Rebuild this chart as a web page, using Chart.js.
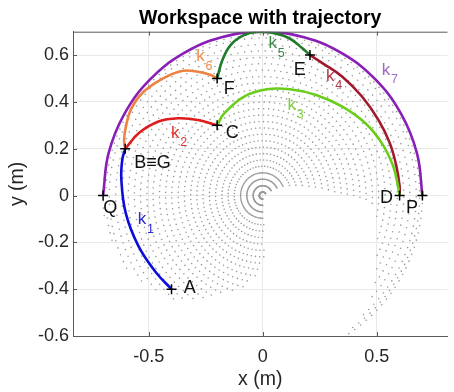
<!DOCTYPE html>
<html>
<head>
<meta charset="utf-8">
<script src="https://cdn.jsdelivr.net/npm/chart.js@4/dist/chart.umd.min.js"></script>
<style>
  html, body { margin: 0; padding: 0; background: #fff; }
  #wrap { width: 454px; height: 392px; }
</style>
</head>
<body>
<div id="wrap"><canvas id="chart" width="454" height="392"></canvas></div>
<script>
// ── Axis ticks ─────────────────────────────────────────────────────────────
const xTickValues = [-0.5, 0, 0.5];
const xTickLabels = ['-0.5', '0', '0.5'];
const yTickValues = [-0.6, -0.4, -0.2, 0, 0.2, 0.4, 0.6];
const yTickLabels = ['-0.6', '-0.4', '-0.2', '0', '0.2', '0.4', '0.6'];

// ── Workspace dots: rings around the base (radius, start/end angle, dot step in deg) ─
const ringRadius = [0.015, 0.042, 0.070, 0.097, 0.125, 0.152, 0.179, 0.207, 0.234, 0.262, 0.289, 0.316, 0.344,
                    0.371, 0.399, 0.426, 0.453, 0.481, 0.508, 0.536, 0.563, 0.590, 0.618, 0.645, 0.673, 0.688, 0.700];
const ringStart  = [32, 30, 27, 24, 20, 17, 14, 11, 9, 7, 5, 3, 2,
                    1, 0, -1, -2, -4, -10, -20, -27, -32, -37, -42, -49, -55, -60];
const ringEnd    = [272, 272, 272, 272, 272, 272, 272, 272, 272, 271, 270, 268, 266,
                    262, 258, 253, 248, 244, 241, 237, 233, 229, 223, 217, 208, 197, 187];
const ringStep   = [3, 3, 3, 3, 6, 5.5, 5, 4.6, 4.3, 4, 3.8, 3.6, 3.5,
                    3.4, 3.3, 3.2, 3.1, 3, 3, 2.9, 2.9, 2.8, 2.8, 2.7, 2.7, 2.7, 2.6];

// ── Trajectory segments ────────────────────────────────────────────────────
const k1X = [-0.400, -0.467, -0.545, -0.601, -0.620, -0.616, -0.603];
const k1Y = [-0.400, -0.330, -0.216, -0.074, 0.068, 0.153, 0.200];
const k2X = [-0.603, -0.543, -0.457, -0.371, -0.284, -0.200];
const k2Y = [0.200, 0.267, 0.316, 0.330, 0.323, 0.300];
const k3X = [-0.200, -0.170, -0.082, 0.019, 0.119, 0.234, 0.349, 0.450, 0.522, 0.572, 0.593, 0.600];
const k3Y = [0.300, 0.350, 0.423, 0.454, 0.454, 0.430, 0.380, 0.309, 0.224, 0.125, 0.040, 0.000];
const k4X = [0.207, 0.263, 0.349, 0.435, 0.507, 0.557, 0.586, 0.600, 0.600];
const k4Y = [0.600, 0.565, 0.508, 0.423, 0.323, 0.224, 0.125, 0.040, 0.000];
const k5X = [-0.200, -0.177, -0.141, -0.083, -0.026, 0.046, 0.118, 0.175, 0.207];
const k5Y = [0.500, 0.579, 0.643, 0.685, 0.699, 0.695, 0.671, 0.628, 0.600];
const k6X = [-0.603, -0.608, -0.600, -0.579, -0.529, -0.443, -0.356, -0.284, -0.227, -0.200];
const k6Y = [0.200, 0.238, 0.295, 0.366, 0.437, 0.497, 0.532, 0.529, 0.515, 0.500];
const k7X = [0.700, 0.676, 0.606, 0.495, 0.350, 0.181, 0.000, -0.181, -0.350, -0.495, -0.606, -0.676, -0.700];
const k7Y = [0.000, 0.181, 0.350, 0.495, 0.606, 0.676, 0.700, 0.676, 0.606, 0.495, 0.350, 0.181, 0.000];

// ── Key points (crosses) and their labels ──────────────────────────────────
const markerX = [-0.400, -0.603, -0.200, 0.600, 0.207, -0.200, 0.700, -0.700];
const markerY = [-0.400, 0.200, 0.300, 0.000, 0.600, 0.500, 0.000, 0.000];
const pointText  = ['A', 'B≡G', 'C', 'D', 'E', 'F', 'P', 'Q'];
const pointTextX = [-0.320, -0.483, -0.134, 0.542, 0.162, -0.147, 0.654, -0.669];
const pointTextY = [-0.394, 0.139, 0.267, -0.011, 0.536, 0.455, -0.055, -0.055];

// segment labels k_1 .. k_7
const kSub    = ['1', '2', '3', '4', '5', '6', '7'];
const kLabelX = [-0.530, -0.384, 0.127, 0.296, 0.044, -0.273, 0.540];
const kLabelY = [-0.102, 0.266, 0.387, 0.510, 0.650, 0.593, 0.536];

// ── Styles ─────────────────────────────────────────────────────────────────
const FONT = '"Liberation Sans", Arial, Helvetica, sans-serif';
const AXIS = '#262626';
const K_LINE  = ['#0c0cdc', '#e01b1b', '#6acd1c', '#a01a2b', '#1f7a2a', '#ee8240', '#8a1fb6'];
const K_LABEL = ['#2a2ad6', '#e0332d', '#7ccf3e', '#b23a4c', '#3a8a45', '#f0904f', '#9c6cc6'];

const toPts = (xs, ys) => xs.map((v, i) => ({ x: v, y: ys[i] }));

const dots = [];
ringRadius.forEach((r, i) => {
  for (let a = ringStart[i]; a <= ringEnd[i] + 1e-9; a += ringStep[i]) {
    const t = a * Math.PI / 180;
    dots.push({ x: r * Math.cos(t), y: r * Math.sin(t) });
  }
});

const segs = [[k1X, k1Y], [k2X, k2Y], [k3X, k3Y], [k4X, k4Y], [k5X, k5Y], [k6X, k6Y], [k7X, k7Y]];
const segDatasets = segs.map((s, i) => ({
  label: 'k' + kSub[i],
  data: toPts(s[0], s[1]),
  showLine: true,
  borderColor: K_LINE[i],
  borderWidth: 2.6,
  pointRadius: 0,
  tension: 0.4,
  fill: false,
  order: 1,
}));

// ── Annotations, box and inward ticks ─────────────────────────────────────
const annotate = {
  id: 'annotate',
  afterDatasetsDraw(chart) {
    const { ctx, chartArea: ca, scales: { x, y } } = chart;
    ctx.save();

    // box top edge + inward ticks (MATLAB look)
    ctx.strokeStyle = '#5a5a5a';
    ctx.lineWidth = 1;
    ctx.beginPath();
    ctx.moveTo(ca.left, ca.top + 0.5);
    ctx.lineTo(ca.right, ca.top + 0.5);
    xTickValues.forEach(v => {
      const px = Math.round(x.getPixelForValue(v)) + 0.5;
      ctx.moveTo(px, ca.bottom); ctx.lineTo(px, ca.bottom - 4);
      ctx.moveTo(px, ca.top); ctx.lineTo(px, ca.top + 4);
    });
    yTickValues.forEach(v => {
      const py = Math.round(y.getPixelForValue(v)) + 0.5;
      ctx.moveTo(ca.left, py); ctx.lineTo(ca.left + 4, py);
    });
    ctx.stroke();

    ctx.textAlign = 'center';
    ctx.textBaseline = 'middle';
    ctx.fillStyle = '#111';
    ctx.font = '18px ' + FONT;
    pointText.forEach((t, i) => {
      ctx.fillText(t, x.getPixelForValue(pointTextX[i]), y.getPixelForValue(pointTextY[i]));
    });

    kSub.forEach((s, i) => {
      const px = x.getPixelForValue(kLabelX[i]);
      const py = y.getPixelForValue(kLabelY[i]);
      ctx.fillStyle = K_LABEL[i];
      ctx.font = '17px ' + FONT;
      ctx.fillText('k', px, py);
      ctx.font = '12.5px ' + FONT;
      ctx.fillText(s, px + 8.5, py + 9.7);
    });
    ctx.restore();
  },
};

new Chart(document.getElementById('chart'), {
  type: 'scatter',
  data: {
    datasets: [
      {
        label: 'points',
        data: toPts(markerX, markerY),
        pointStyle: 'cross',
        pointRadius: 5,
        borderColor: '#000',
        borderWidth: 1.5,
        order: 0,
      },
      ...segDatasets,
      {
        label: 'workspace',
        data: dots,
        pointRadius: 0.8,
        borderWidth: 0,
        backgroundColor: '#999999',
        order: 2,
      },
    ],
  },
  options: {
    responsive: false,
    animation: false,
    devicePixelRatio: 1,
    layout: { padding: 0 },
    plugins: {
      legend: { display: false },
      tooltip: { enabled: false },
      title: {
        display: true,
        text: 'Workspace with trajectory',
        color: '#000',
        fullSize: false,
        font: { family: FONT, size: 19.5, weight: 'bold' },
        padding: { top: 6.8, bottom: 1.5 },
      },
    },
    scales: {
      x: {
        type: 'linear',
        min: -0.832,
        max: 0.81,
        afterBuildTicks: s => { s.ticks = xTickValues.map(v => ({ value: v })); },
        afterFit: s => { s.height = 56; },
        ticks: {
          color: AXIS,
          autoSkip: false,
          maxRotation: 0,
          padding: 10,
          font: { family: FONT, size: 18 },
          callback: (v, i) => xTickLabels[i],
        },
        grid: { color: '#e9e9e9', drawTicks: false },
        border: { color: '#5a5a5a', width: 1 },
        title: {
          display: true,
          text: 'x (m)',
          color: AXIS,
          font: { family: FONT, size: 19.5 },
          padding: { top: 0, bottom: 0.5 },
        },
      },
      y: {
        type: 'linear',
        min: -0.6,
        max: 0.7,
        afterBuildTicks: s => { s.ticks = yTickValues.map(v => ({ value: v })); },
        afterFit: s => { s.width = 73; },
        ticks: {
          color: AXIS,
          autoSkip: false,
          padding: 4,
          font: { family: FONT, size: 18 },
          callback: (v, i) => yTickLabels[i],
        },
        grid: { color: '#e9e9e9', drawTicks: false },
        border: { color: '#5a5a5a', width: 1 },
        title: {
          display: true,
          text: 'y (m)',
          color: AXIS,
          font: { family: FONT, size: 19.5 },
          padding: { top: 5.6, bottom: 0 },
        },
      },
    },
  },
  plugins: [annotate],
});
</script>
</body>
</html>
